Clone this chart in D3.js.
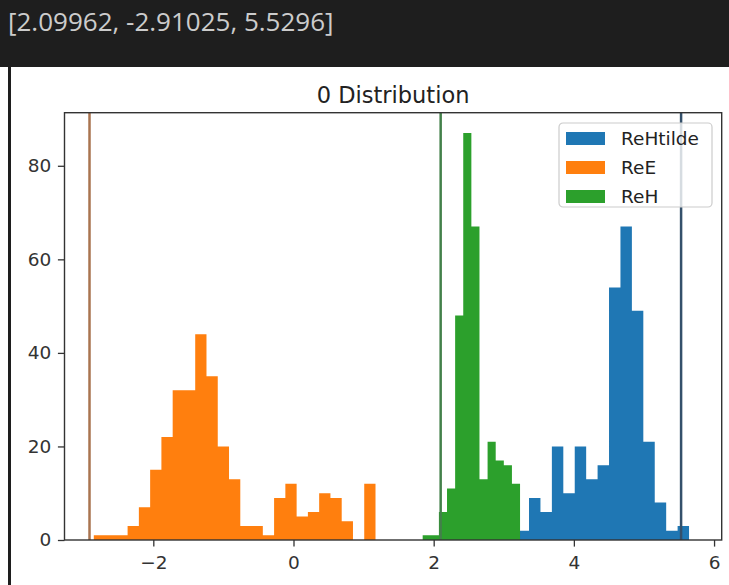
<!DOCTYPE html>
<html>
<head>
<meta charset="utf-8">
<title>0 Distribution</title>
<script src="https://d3js.org/d3.v7.min.js"></script>
<style>
  body { margin: 0; background: #fff; }
  svg { display: block; }
</style>
</head>
<body>
<script>
// printed list above the plot = the three axvline positions
var lineValues = [2.09962, -2.91025, 5.5296];
var lineColors = ["#43804a", "#a97450", "#34506b"];

// histogram counts, bins are equal width between range ends
var seriesNames = ["ReHtilde", "ReE", "ReH"];
var seriesColors = ["#1f77b4", "#ff7f0e", "#2ca02c"];
var reHtildeCounts = [2, 9, 6, 20, 10, 20, 13, 16, 54, 67, 49, 21, 8, 2, 3];
var reHtildeRange = [3.197, 5.643];
var reECounts = [1, 1, 1, 3, 7, 15, 22, 32, 32, 44, 35, 20, 13, 3, 3, 1, 9, 12, 5, 6, 10, 9, 4, 0, 12];
var reERange = [-2.849, 1.170];
var reHCounts = [1, 1, 6, 11, 48, 87, 67, 13, 21, 17, 16, 12];
var reHRange = [1.843, 3.232];

var xTicks = [-2, 0, 2, 4, 6];
var yTicks = [0, 20, 40, 60, 80];

var W = 729, H = 585;
var plot = {left: 64.5, right: 721.7, top: 112.7, bottom: 540};

var svg = d3.select("body").append("svg")
  .attr("width", W)
  .attr("height", H);

// notebook output cell look
svg.append("rect").attr("x", 0).attr("y", 0).attr("width", W).attr("height", 67).attr("fill", "#1e1e1e");
svg.append("rect").attr("x", 8).attr("y", 67).attr("width", 3).attr("height", H - 67).attr("fill", "#1e1e1e");
svg.append("text")
  .attr("x", 8).attr("y", 31)
  .attr("font-family", "'Open Sans', 'Noto Sans', sans-serif")
  .attr("font-size", 26)
  .attr("fill", "#cccccc")
  .text("[" + lineValues.join(", ") + "]");

var x = d3.scaleLinear().domain([-3.267, 6.109]).range([plot.left, plot.right]);
var y = d3.scaleLinear().domain([0, 91.35]).range([plot.bottom, plot.top]);

// counts + range -> step points (last bin repeated at its right edge)
function steps(counts, range) {
  var w = (range[1] - range[0]) / counts.length;
  var pts = counts.map(function(c, i) { return {x: range[0] + i * w, n: c}; });
  pts.push({x: range[1], n: counts[counts.length - 1]});
  return pts;
}
var series = [steps(reHtildeCounts, reHtildeRange), steps(reECounts, reERange), steps(reHCounts, reHRange)];

var area = d3.area()
  .curve(d3.curveStepAfter)
  .x(function(d) { return x(d.x); })
  .y0(y(0))
  .y1(function(d) { return y(d.n); });

var g = svg.append("g");
g.selectAll("path.hist")
  .data(series)
  .enter()
  .append("path")
  .attr("class", "hist")
  .attr("d", area)
  .attr("fill", function(d, i) { return seriesColors[i]; });

// vertical lines
g.selectAll("line.v")
  .data(lineValues)
  .enter()
  .append("line")
  .attr("class", "v")
  .attr("x1", function(d) { return x(d); })
  .attr("x2", function(d) { return x(d); })
  .attr("y1", plot.top)
  .attr("y2", plot.bottom)
  .attr("stroke", function(d, i) { return lineColors[i]; })
  .attr("stroke-width", 2.5);

// axes
var tickFont = "'DejaVu Sans', sans-serif";
var xAxis = svg.append("g")
  .attr("transform", "translate(0," + plot.bottom + ")")
  .call(d3.axisBottom(x).tickValues(xTicks).tickSize(6.6).tickPadding(9).tickSizeOuter(0));
var yAxis = svg.append("g")
  .attr("transform", "translate(" + plot.left + ",0)")
  .call(d3.axisLeft(y).tickValues(yTicks).tickSize(6.6).tickPadding(6.6).tickSizeOuter(0));
[xAxis, yAxis].forEach(function(a) {
  a.select(".domain").remove();
  a.selectAll("line").attr("stroke", "#333").attr("stroke-width", 1.3);
  a.selectAll("text").attr("font-family", tickFont).attr("font-size", 18.5).attr("fill", "#333");
});

// frame
svg.append("rect")
  .attr("x", plot.left).attr("y", plot.top)
  .attr("width", plot.right - plot.left).attr("height", plot.bottom - plot.top)
  .attr("fill", "none").attr("stroke", "#333").attr("stroke-width", 1.4);

// title
svg.append("text")
  .attr("x", (plot.left + plot.right) / 2).attr("y", 103)
  .attr("text-anchor", "middle")
  .attr("font-family", tickFont)
  .attr("font-size", 22.5)
  .attr("fill", "#222")
  .text("0 Distribution");

// legend
var leg = svg.append("g").attr("transform", "translate(559,123)");
leg.append("rect")
  .attr("width", 153).attr("height", 84).attr("rx", 4)
  .attr("fill", "#fff").attr("fill-opacity", 0.8)
  .attr("stroke", "#cccccc").attr("stroke-width", 1.2);
seriesNames.forEach(function(name, i) {
  leg.append("rect")
    .attr("x", 7).attr("y", 9 + i * 29)
    .attr("width", 39).attr("height", 13)
    .attr("fill", seriesColors[i]);
  leg.append("text")
    .attr("x", 62).attr("y", 22 + i * 29)
    .attr("font-family", tickFont).attr("font-size", 18.5)
    .attr("fill", "#222")
    .text(name);
});
</script>
</body>
</html>
